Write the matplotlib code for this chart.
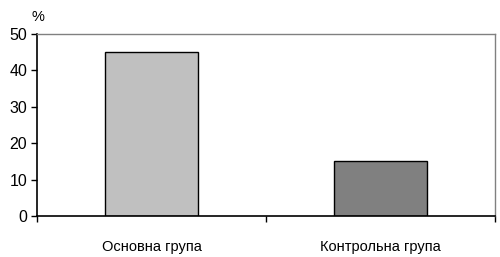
import numpy as np
import matplotlib
matplotlib.use("Agg")
import matplotlib.pyplot as plt

plt.rcParams['font.family'] = ['Liberation Sans', 'DejaVu Sans']

# дані
groups = ["Основна група", "Контрольна група"]
values = [45, 15]
colors = ["#c0c0c0", "#808080"]
yticks = [0, 10, 20, 30, 40, 50]

fig = plt.figure(figsize=(5.0, 2.57), dpi=100)
ax = fig.add_axes([0.074, 0.1595, 0.916, 0.708])

x = np.arange(len(groups))
ax.bar(x, values, width=0.405, color=colors, edgecolor="black", linewidth=1.0, zorder=2)

ax.set_xlim(-0.5, len(groups) - 0.5)
ax.set_ylim(0, 50)
ax.set_yticks(yticks)
ax.set_yticklabels([str(v) for v in yticks], fontsize=11.5)

# межі категорій як мітки на осі x
ax.set_xticks(np.arange(-0.5, len(groups)))
ax.set_xticklabels([])
ax.set_xticks(x, minor=True)
ax.set_xticklabels(groups, minor=True, fontsize=10.5)
ax.tick_params(axis="x", which="minor", length=0, pad=17)
ax.tick_params(axis="x", which="major", length=4, width=1, direction="out")
ax.tick_params(axis="y", length=4, width=1, direction="out", pad=3)

for side in ["top", "right"]:
    ax.spines[side].set_color("#808080")
    ax.spines[side].set_linewidth(1.0)
for side in ["left", "bottom"]:
    ax.spines[side].set_color("black")
    ax.spines[side].set_linewidth(1.2)

fig.text(0.076, 0.905, "%", fontsize=10.5, ha="center", va="bottom")

fig.savefig("out.png", dpi=100)
